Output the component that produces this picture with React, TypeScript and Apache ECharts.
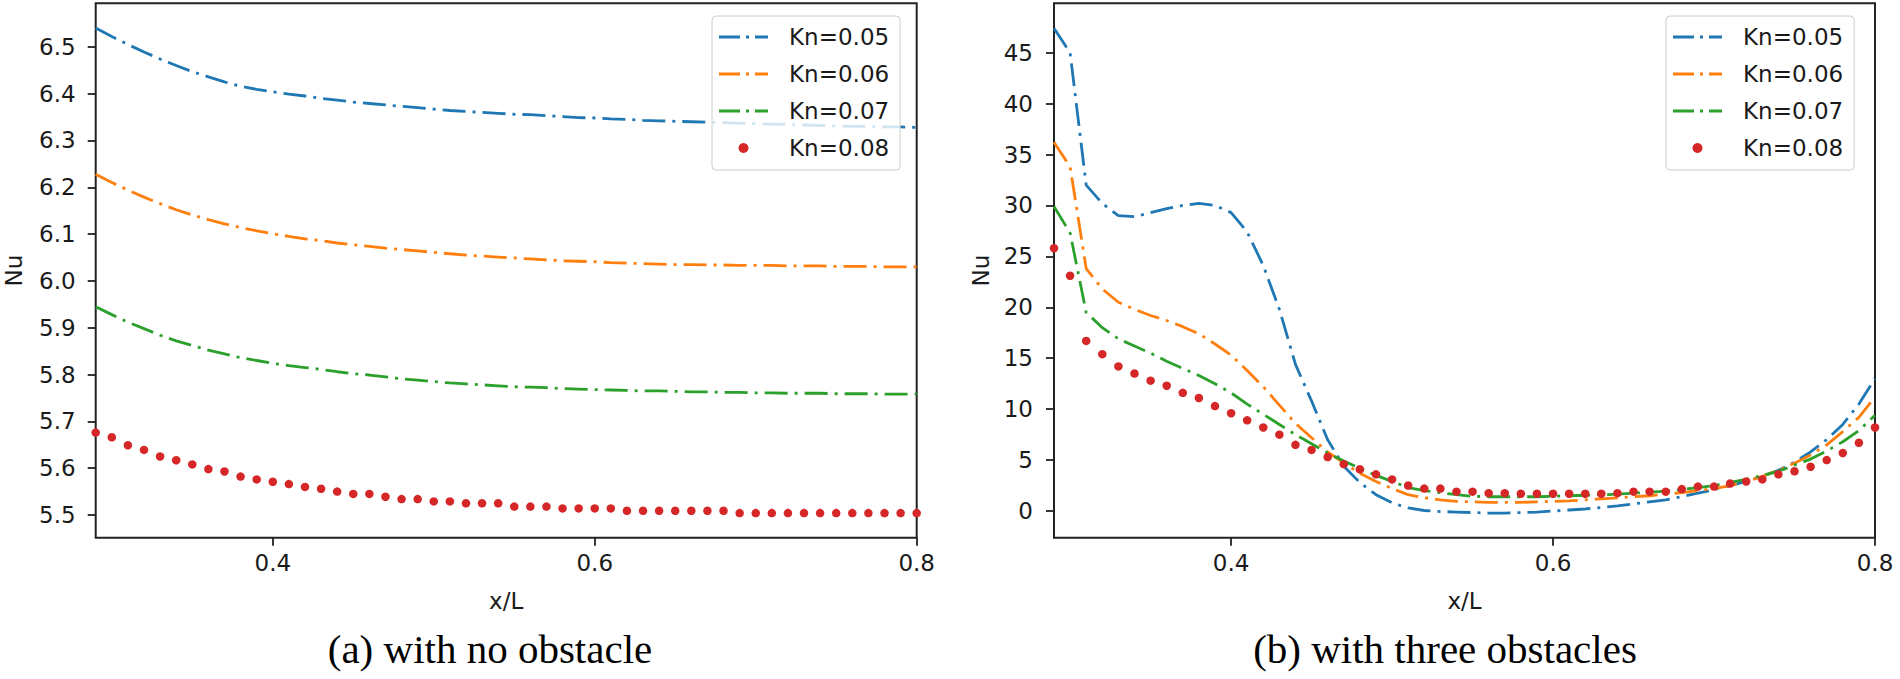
import React, { useEffect, useRef } from "react";
import * as echarts from "echarts";

// x/L sample positions (shared by every series)
const xPositions = [
  0.29, 0.30, 0.31, 0.32, 0.33, 0.34, 0.35, 0.36, 0.37, 0.38,
  0.39, 0.40, 0.41, 0.42, 0.43, 0.44, 0.45, 0.46, 0.47, 0.48,
  0.49, 0.50, 0.51, 0.52, 0.53, 0.54, 0.55, 0.56, 0.57, 0.58,
  0.59, 0.60, 0.61, 0.62, 0.63, 0.64, 0.65, 0.66, 0.67, 0.68,
  0.69, 0.70, 0.71, 0.72, 0.73, 0.74, 0.75, 0.76, 0.77, 0.78,
  0.79, 0.80,
];

const seriesNames = ["Kn=0.05", "Kn=0.06", "Kn=0.07", "Kn=0.08"];
const seriesColors = ["#1f77b4", "#ff7f0e", "#2ca02c", "#d62728"];

// (a) with no obstacle
const noObstacleKn005 = [
  6.540, 6.522, 6.505, 6.489, 6.474, 6.460, 6.447, 6.436, 6.425, 6.416,
  6.409, 6.404, 6.399, 6.395, 6.390, 6.386, 6.382, 6.379, 6.376, 6.373,
  6.370, 6.367, 6.364, 6.362, 6.360, 6.358, 6.356, 6.355, 6.353, 6.351,
  6.349, 6.348, 6.346, 6.345, 6.343, 6.342, 6.341, 6.340, 6.339, 6.338,
  6.337, 6.336, 6.335, 6.334, 6.333, 6.332, 6.331, 6.330, 6.330, 6.329,
  6.329, 6.328,
];
const noObstacleKn006 = [
  6.228, 6.210, 6.194, 6.179, 6.165, 6.152, 6.141, 6.131, 6.122, 6.114,
  6.107, 6.101, 6.095, 6.090, 6.086, 6.081, 6.077, 6.074, 6.070, 6.067,
  6.064, 6.061, 6.058, 6.055, 6.053, 6.051, 6.049, 6.047, 6.045, 6.043,
  6.042, 6.041, 6.039, 6.038, 6.037, 6.036, 6.035, 6.035, 6.034, 6.034,
  6.033, 6.033, 6.033, 6.032, 6.032, 6.032, 6.031, 6.031, 6.031, 6.030,
  6.030, 6.030,
];
const noObstacleKn007 = [
  5.945, 5.928, 5.912, 5.898, 5.884, 5.872, 5.862, 5.852, 5.844, 5.836,
  5.830, 5.824, 5.819, 5.815, 5.811, 5.806, 5.802, 5.799, 5.795, 5.791,
  5.788, 5.785, 5.782, 5.780, 5.778, 5.776, 5.774, 5.773, 5.772, 5.770,
  5.769, 5.768, 5.767, 5.766, 5.765, 5.765, 5.764, 5.763, 5.763, 5.762,
  5.762, 5.761, 5.761, 5.760, 5.760, 5.760, 5.759, 5.759, 5.759, 5.758,
  5.758, 5.758,
];
const noObstacleKn008 = [
  5.676, 5.666, 5.649, 5.639, 5.625, 5.617, 5.608, 5.598, 5.593, 5.582,
  5.576, 5.571, 5.566, 5.560, 5.556, 5.550, 5.545, 5.545, 5.539, 5.534,
  5.534, 5.529, 5.529, 5.525, 5.525, 5.525, 5.518, 5.518, 5.518, 5.514,
  5.514, 5.514, 5.514, 5.509, 5.509, 5.509, 5.509, 5.509, 5.509, 5.509,
  5.504, 5.504, 5.504, 5.504, 5.504, 5.504, 5.504, 5.504, 5.504, 5.504,
  5.504, 5.504,
];

// (b) with three obstacles
const threeObstaclesKn005 = [
  47.4, 45.0, 32.0, 30.2, 29.0, 28.9, 29.3, 29.7, 30.0, 30.2,
  30.0, 29.3, 27.4, 24.1, 19.8, 14.4, 10.8, 7.0, 4.4, 2.8,
  1.6, 0.8, 0.3, 0.05, -0.05, -0.1, -0.15, -0.2, -0.2, -0.15,
  -0.1, 0.0, 0.1, 0.2, 0.35, 0.5, 0.7, 0.9, 1.1, 1.4,
  1.75, 2.1, 2.5, 2.9, 3.4, 4.0, 4.8, 5.8, 7.0, 8.5,
  10.5, 13.0,
];
const threeObstaclesKn006 = [
  36.2, 33.8, 23.8, 21.8, 20.5, 19.8, 19.2, 18.7, 18.1, 17.4,
  16.4, 15.3, 13.8, 12.2, 10.4, 8.6, 7.2, 5.8, 4.7, 3.7,
  2.9, 2.2, 1.6, 1.3, 1.1, 0.95, 0.9, 0.85, 0.85, 0.85,
  0.9, 0.95, 1.0, 1.1, 1.2, 1.3, 1.4, 1.5, 1.65, 1.8,
  2.0, 2.2, 2.5, 2.9, 3.4, 4.0, 4.7, 5.5, 6.5, 7.8,
  9.2, 11.2,
];
const threeObstaclesKn007 = [
  29.9, 27.3, 19.5, 18.0, 16.9, 16.2, 15.5, 14.7, 14.0, 13.3,
  12.5, 11.6, 10.5, 9.5, 8.5, 7.5, 6.6, 5.7, 4.9, 4.2,
  3.5, 2.9, 2.3, 2.0, 1.8, 1.6, 1.45, 1.4, 1.4, 1.4,
  1.4, 1.45, 1.5, 1.55, 1.6, 1.65, 1.75, 1.85, 1.95, 2.1,
  2.3, 2.5, 2.8, 3.1, 3.5, 3.9, 4.5, 5.1, 5.9, 6.8,
  7.9, 9.4,
];
const threeObstaclesKn008 = [
  25.8, 23.1, 16.7, 15.4, 14.2, 13.5, 12.8, 12.3, 11.6, 11.1,
  10.3, 9.6, 8.9, 8.2, 7.5, 6.5, 6.0, 5.3, 4.6, 4.1,
  3.6, 3.1, 2.5, 2.2, 2.2, 1.9, 1.9, 1.75, 1.75, 1.7,
  1.7, 1.7, 1.7, 1.7, 1.7, 1.75, 1.9, 1.9, 1.9, 2.15,
  2.4, 2.4, 2.7, 2.9, 3.1, 3.6, 3.9, 4.35, 5.0, 5.7,
  6.7, 8.2,
];

const xTickValues = [0.4, 0.6, 0.8];
const leftYTickValues = [5.5, 5.6, 5.7, 5.8, 5.9, 6.0, 6.1, 6.2, 6.3, 6.4, 6.5];
const rightYTickValues = [0, 5, 10, 15, 20, 25, 30, 35, 40, 45];
const xAxisTitle = "x/L";
const yAxisTitle = "Nu";
const captions = ["(a) with no obstacle", "(b) with three obstacles"];

const panelData = [
  [noObstacleKn005, noObstacleKn006, noObstacleKn007, noObstacleKn008],
  [threeObstaclesKn005, threeObstaclesKn006, threeObstaclesKn007, threeObstaclesKn008],
];

const SANS = "DejaVu Sans";
const SERIF = "Liberation Serif";
const TEXT = "#1a1a1a";
const SPINE = "#222222";
const DASH_ICON = "path://M0,0H21V3H0Z M27,0H30V3H27Z M36,0H49V3H36Z";

function buildOption() {
  const grids = [
    { left: 95.7, top: 3.3, width: 821, height: 534.4 },
    { left: 1054, top: 3.3, width: 821, height: 534.4 },
  ].map((g) => ({
    ...g,
    show: true,
    borderColor: SPINE,
    borderWidth: 2,
    backgroundColor: "transparent",
    containLabel: false,
    outerBoundsMode: "none",
  }));

  const tickStyle = { color: SPINE, width: 1.8 };
  const labelFont = { fontFamily: SANS, fontSize: 23, color: TEXT };

  const xAxes = [0, 1].map((i) => ({
    type: "value",
    gridIndex: i,
    min: 0.29,
    max: 0.8,
    axisLine: { show: false, onZero: false },
    axisTick: { show: true, customValues: xTickValues, length: 8, lineStyle: tickStyle },
    axisLabel: {
      ...labelFont,
      customValues: xTickValues,
      margin: 14,
      formatter: (v: number) => v.toFixed(1),
    },
    splitLine: { show: false },
    name: xAxisTitle,
    nameLocation: "middle",
    nameGap: 52,
    nameTextStyle: { ...labelFont },
  }));

  const yAxes = [
    {
      type: "value",
      gridIndex: 0,
      min: 5.4515,
      max: 6.593,
      axisLine: { show: false, onZero: false },
      axisTick: { show: true, customValues: leftYTickValues, length: 8, lineStyle: tickStyle },
      axisLabel: {
        ...labelFont,
        customValues: leftYTickValues,
        margin: 20,
        formatter: (v: number) => v.toFixed(1),
      },
      splitLine: { show: false },
      name: yAxisTitle,
      nameLocation: "middle",
      nameGap: 70,
      nameTextStyle: { ...labelFont },
    },
    {
      type: "value",
      gridIndex: 1,
      min: -2.62,
      max: 49.85,
      axisLine: { show: false, onZero: false },
      axisTick: { show: true, customValues: rightYTickValues, length: 8, lineStyle: tickStyle },
      axisLabel: {
        ...labelFont,
        customValues: rightYTickValues,
        margin: 21,
        formatter: (v: number) => String(Math.round(v)),
      },
      splitLine: { show: false },
      name: yAxisTitle,
      nameLocation: "middle",
      nameGap: 62,
      nameTextStyle: { ...labelFont },
    },
  ];

  const series: any[] = [];
  panelData.forEach((panel, p) => {
    panel.forEach((vals, s) => {
      const data = xPositions.map((x, i) => [x, vals[i]]);
      if (s < 3) {
        series.push({
          type: "line",
          name: seriesNames[s],
          xAxisIndex: p,
          yAxisIndex: p,
          data,
          symbol: "none",
          showSymbol: false,
          smooth: false,
          color: seriesColors[s],
          itemStyle: { color: seriesColors[s] },
          lineStyle: { color: seriesColors[s], width: 2.8, type: [23, 7, 3, 7], cap: "butt" },
          z: 2 + s,
        });
      } else {
        series.push({
          type: "scatter",
          name: seriesNames[s],
          xAxisIndex: p,
          yAxisIndex: p,
          data,
          symbol: "circle",
          symbolSize: 8.5,
          color: seriesColors[s],
          itemStyle: { color: seriesColors[s], opacity: 1 },
          z: 6,
        });
      }
    });
  });

  const legendBase = {
    orient: "vertical",
    top: 16,
    itemWidth: 49,
    itemHeight: 10,
    itemGap: 9,
    padding: [7, 11, 8, 7],
    backgroundColor: "rgba(255,255,255,0.8)",
    borderColor: "#cccccc",
    borderWidth: 1,
    borderRadius: 4,
    selectedMode: false,
    itemStyle: { borderWidth: 0, opacity: 1 },
    textStyle: {
      fontFamily: SANS,
      fontSize: 23,
      color: TEXT,
      lineHeight: 28,
      padding: [0, 0, 0, 16],
    },
    data: seriesNames.map((n, i) => ({ name: n, icon: i < 3 ? DASH_ICON : "circle" })),
  };

  const legends = [
    { ...legendBase, left: 712 },
    { ...legendBase, left: 1666 },
  ];

  const graphic = [
    { x: 490, y: 649, text: captions[0] },
    { x: 1445, y: 649, text: captions[1] },
  ].map((c) => ({
    type: "text",
    x: c.x,
    y: c.y,
    silent: true,
    style: {
      text: c.text,
      fontFamily: SERIF,
      fontSize: 41,
      fill: "#000000",
      align: "center",
      verticalAlign: "middle",
    },
  }));

  return {
    animation: false,
    backgroundColor: "#ffffff",
    grid: grids,
    xAxis: xAxes,
    yAxis: yAxes,
    legend: legends,
    series,
    graphic,
  };
}

export default function App() {
  const ref = useRef<HTMLDivElement>(null);
  useEffect(() => {
    document.body.style.margin = "0";
    if (!ref.current) return;
    const chart = echarts.init(ref.current, null, { renderer: "svg" });
    chart.setOption(buildOption() as any);
    return () => chart.dispose();
  }, []);
  return <div ref={ref} style={{ width: 1900, height: 679 }} />;
}
